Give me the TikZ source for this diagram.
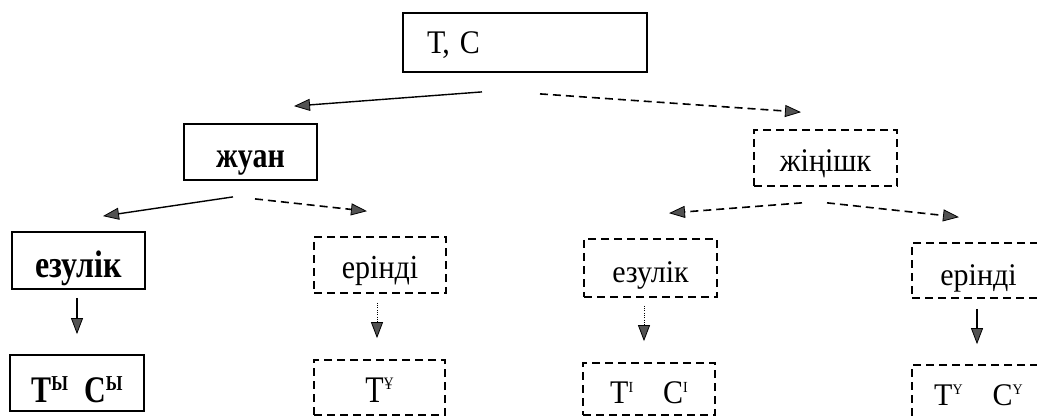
\documentclass[tikz,border=0pt]{standalone}
\usepackage{fontspec}
\setmainfont{Liberation Serif}
\usetikzlibrary{arrows.meta,calc}
\newcommand\supr[1]{\raisebox{10pt}{\fontsize{14}{14}\selectfont #1}}
\newcommand\bsupr[1]{\raisebox{9pt}{\fontsize{17}{17}\selectfont #1}}
\newcommand\vs[2]{\scalebox{1}[#1]{#2}}
\tikzset{
  box/.style={draw, line width=1.8pt, minimum height=56pt, minimum width=133pt, inner sep=0pt, text depth=0pt, text height=28pt, font=\fontsize{30}{34}\selectfont},
  dbox/.style={box, line width=1.7pt, dash pattern=on 8pt off 5pt},
  bbox/.style={box, font=\fontsize{30}{34}\selectfont\bfseries},
  arr/.style={line width=1.4pt, -{Triangle[length=16pt,width=12pt,fill=black!68,line width=0.8pt]}},
  darr/.style={arr, line width=1.6pt, dash pattern=on 8pt off 5pt},
  oarr/.style={arr, line width=0.9pt, dash pattern=on 1pt off 1.3pt}
}
\begin{document}
\begin{tikzpicture}[x=1pt,y=-1pt]
\useasboundingbox (0,0) rectangle (1037,417);
% nodes
\node[box, minimum width=244pt, minimum height=59pt, text width=196pt, align=left, text height=23pt] (tc) at (525,42.5) {\vs{1.1}{Т, С}};
\node[bbox, text height=32pt] (zhuan) at (250.5,152) {\vs{1.2}{жуан}};
\node[dbox, minimum width=143pt] (zhin) at (825.5,158) {\vs{1.1}{жіңішк}};
\node[bbox, minimum height=57pt, text height=33pt, font=\fontsize{32}{36}\selectfont\bfseries] (ez1) at (78.5,260.5) {\vs{1.2}{езулік}};
\node[dbox, minimum width=132pt, text height=26pt] (er1) at (380,265) {\vs{1.12}{еріндi}};
\node[dbox, minimum height=58pt] (ez2) at (650.5,268) {\vs{1.05}{езулік}};
\node[dbox, minimum height=55pt, text height=29pt] (er2) at (978.5,270.5) {\vs{1.05}{еріндi}};
\node[bbox, minimum width=134pt, text height=38pt] (ty1) at (77,383) {\vs{1.25}{Т\bsupr{Ы}\hspace{16pt}С\bsupr{Ы}}};
\node[dbox, minimum width=131pt, minimum height=55pt, text height=29pt] (ty2) at (379.5,387.5) {\vs{1.25}{Т\supr{Ұ}}};
\node[dbox, minimum width=132pt, minimum height=52pt] (ti) at (649,389) {\vs{1.1}{Т\supr{І}\quad С\supr{І}}};
\node[dbox, minimum height=55pt, text height=25pt] (ty3) at (978.5,392.5) {\vs{1.05}{Т\supr{Ү}\quad С\supr{Ү}}};
% connectors
\draw[arr]  ($(tc.south)+(-43,19)$) -- ($(zhuan.north)+(43.5,-17)$);
\draw[darr] ($(tc.south)+(15,21)$) -- ($(zhin.north)+(-24.5,-17)$);
\draw[arr]  ($(zhuan.south)+(-17.5,16)$) -- ($(ez1.north)+(24.5,-15)$);
\draw[darr] ($(zhuan.south)+(4.5,18)$) -- ($(er1.north)+(-13,-25)$);
\draw[darr] ($(zhin.south)+(-23.5,16)$) -- ($(ez2.north)+(18.5,-25)$);
\draw[darr] ($(zhin.south)+(1.5,16)$) -- ($(er2.north)+(-19.5,-25)$);
\draw[arr]  ($(ez1.south)+(-1.5,8)$) -- ($(ty1.north)+(0,-20)$);
\draw[oarr] ($(er1.south)+(-3,9)$) -- ($(ty2.north)+(-2.5,-21)$);
\draw[oarr] ($(ez2.south)+(-6.5,8)$) -- ($(ti.north)+(-5,-21)$);
\draw[arr]  ($(er2.south)+(-1.5,10)$) -- ($(ty3.north)+(-1.5,-20)$);
\end{tikzpicture}
\end{document}
